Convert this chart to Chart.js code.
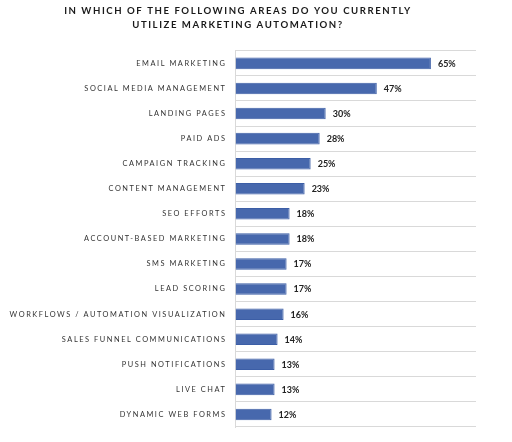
<!DOCTYPE html>
<html>
<head>
<meta charset="utf-8">
<script src="https://cdn.jsdelivr.net/npm/chart.js@4/dist/chart.umd.min.js"></script>
<style>
html,body{margin:0;padding:0;background:#fff;}
#wrap{width:512px;height:442px;}
</style>
</head>
<body>
<div id="wrap"><canvas id="c" width="512" height="442"></canvas></div>
<script>
const categories = [
  "EMAIL MARKETING",
  "SOCIAL MEDIA MANAGEMENT",
  "LANDING PAGES",
  "PAID ADS",
  "CAMPAIGN TRACKING",
  "CONTENT MANAGEMENT",
  "SEO EFFORTS",
  "ACCOUNT-BASED MARKETING",
  "SMS MARKETING",
  "LEAD SCORING",
  "WORKFLOWS / AUTOMATION VISUALIZATION",
  "SALES FUNNEL COMMUNICATIONS",
  "PUSH NOTIFICATIONS",
  "LIVE CHAT",
  "DYNAMIC WEB FORMS"
];
const values = [65, 47, 30, 28, 25, 23, 18, 18, 17, 17, 16, 14, 13, 13, 12];
const titleLines = [
  "IN WHICH OF THE FOLLOWING AREAS DO YOU CURRENTLY",
  "UTILIZE MARKETING AUTOMATION?"
];

const spacingPlugin = {
  id: 'spacing',
  beforeDraw(chart) { chart.ctx.letterSpacing = '1.55px'; },
  afterDatasetsDraw(chart) {
    const ctx = chart.ctx;
    ctx.save();
    ctx.letterSpacing = '0px';
    ctx.font = 'bold 9px Lato';
    ctx.fillStyle = '#222';
    ctx.textAlign = 'left';
    ctx.textBaseline = 'middle';
    const meta = chart.getDatasetMeta(0);
    meta.data.forEach((bar, i) => {
      ctx.fillText(values[i] + '%', bar.x + 7, bar.y + 0.5);
    });
    ctx.restore();
  },
  afterDraw(chart) { chart.ctx.letterSpacing = '0px'; }
};

new Chart(document.getElementById('c'), {
  type: 'bar',
  data: {
    labels: categories,
    datasets: [{
      data: values,
      backgroundColor: '#4768ad',
      borderColor: '#3c5ea6',
      borderWidth: 1,
      barPercentage: 0.46,
      categoryPercentage: 1.0
    }]
  },
  options: {
    indexAxis: 'y',
    responsive: false,
    animation: false,
    devicePixelRatio: 1,
    layout: { padding: { left: 0, right: 36, top: 0, bottom: 15 } },
    plugins: {
      legend: { display: false },
      tooltip: { enabled: false },
      title: {
        display: true,
        text: titleLines,
        color: '#1a1a1a',
        font: { family: 'Lato', size: 9.6, weight: 'bold', lineHeight: 1.45 },
        padding: { top: 4, bottom: 19 }
      }
    },
    scales: {
      x: {
        display: false,
        min: 0,
        max: 80
      },
      y: {
        afterFit(scale) { scale.width = 235.5; },
        grid: {
          offset: true,
          color: '#d9d9d9',
          lineWidth: 1,
          drawTicks: false
        },
        border: { display: true, color: '#d9d9d9', width: 1 },
        ticks: {
          color: '#333',
          padding: 9,
          font: { family: 'Lato', size: 7.4 }
        }
      }
    }
  },
  plugins: [spacingPlugin]
});
</script>
</body>
</html>
